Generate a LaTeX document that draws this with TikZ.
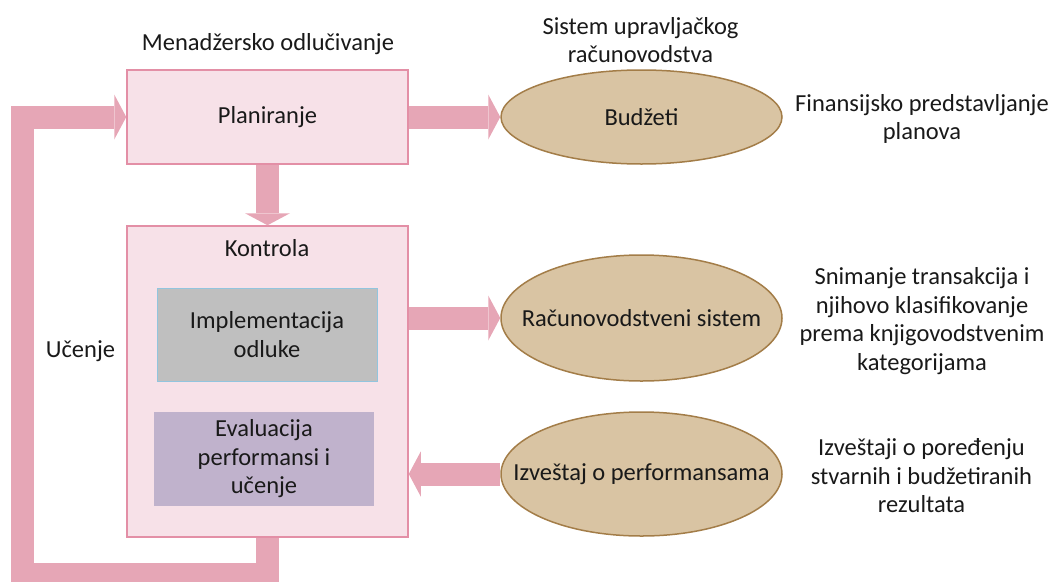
\documentclass[tikz,border=0pt]{standalone}
\usepackage{fontspec}
\setmainfont{Carlito}
\usetikzlibrary{shapes.geometric,arrows.meta}
\definecolor{arrowpink}{HTML}{E6A6B6}
\definecolor{boxpink}{HTML}{F7E1E8}
\definecolor{boxborder}{HTML}{E38FA6}
\definecolor{tanfill}{HTML}{D9C4A3}
\definecolor{tanborder}{HTML}{A37D48}
\definecolor{grayfill}{HTML}{BFBFBF}
\definecolor{blueborder}{HTML}{92C5DE}
\definecolor{lilac}{HTML}{C0B2CC}
\tikzset{
  every node/.style={font=\fontsize{24.5}{28.5}\selectfont, text=black!90, inner sep=0pt},
  pinkbox/.style={draw=boxborder, fill=boxpink, line width=1.5pt, rectangle, minimum width=281pt},
  oval/.style={ellipse, draw=tanborder, fill=tanfill, line width=1.5pt, minimum width=281pt},
  barrow/.style={draw=arrowpink, line width=23pt,
    -{Triangle[length=12pt 0 0, width=45pt 0 0, line width=0pt, fill=arrowpink]}},
  lbl/.style={align=center}
}
\begin{document}
\begin{tikzpicture}[x=1pt,y=-1pt]
\useasboundingbox (0,0) rectangle (1051,581);

% boxes
\node[pinkbox, minimum height=94pt] (plan) at (267.5,117) {Planiranje};
\node[pinkbox, minimum height=311pt] (kon) at (267.5,381.5) {};
\node[anchor=base] (konlbl) at (267,256) {Kontrola};
\node[draw=blueborder, fill=grayfill, line width=1pt, minimum width=220pt, minimum height=93pt, lbl] (impl) at (267,334.5) {Implementacija\\odluke};
\node[fill=lilac, minimum width=220pt, minimum height=94pt, lbl] (eval) at (264,459) {Evaluacija\\performansi i\\učenje};

% ellipses
\node[oval, minimum height=94pt] (bud) at (641.5,117) {};
\node (budtxt) at (bud.center) {Budžeti};
\node[oval, minimum height=126pt] (rac) at (641.5,318) {};
\node (ractxt) at (rac.center) {Računovodstveni sistem};
\node[oval, minimum height=124pt] (izv) at (641.5,474) {};
\node (izvtxt) at (izv.center) {Izveštaj o performansama};

% titles and descriptions
\node[anchor=base] (title1) at (268,50) {Menadžersko odlučivanje};
\node[lbl] (title2) at (640.5,40) {Sistem upravljačkog\\računovodstva};
\node[lbl] (desc1) at (922,119) {Finansijsko predstavljanje\\planova};
\node[lbl] (desc2) at (922,321) {Snimanje transakcija i\\njihovo klasifikovanje\\prema knjigovodstvenim\\kategorijama};
\node[lbl] (desc3) at (921.5,476) {Izveštaji o poređenju\\stvarnih i budžetiranih\\rezultata};
\node[anchor=base] (ucenje) at (80.5,357) {Učenje};

% arrows
\coordinate (loopbl) at (22.5,574.5);
\draw[barrow] (plan.south) -- (kon.north);
\draw[barrow] (plan.east) -- (bud.west);
\draw[barrow] (kon.east |- rac.west) -- (rac.west);
\draw[barrow] (izv.west) -- (kon.east |- izv.west);
\draw[barrow] (kon.south) |- (loopbl) |- (plan.west);
\end{tikzpicture}
\end{document}
